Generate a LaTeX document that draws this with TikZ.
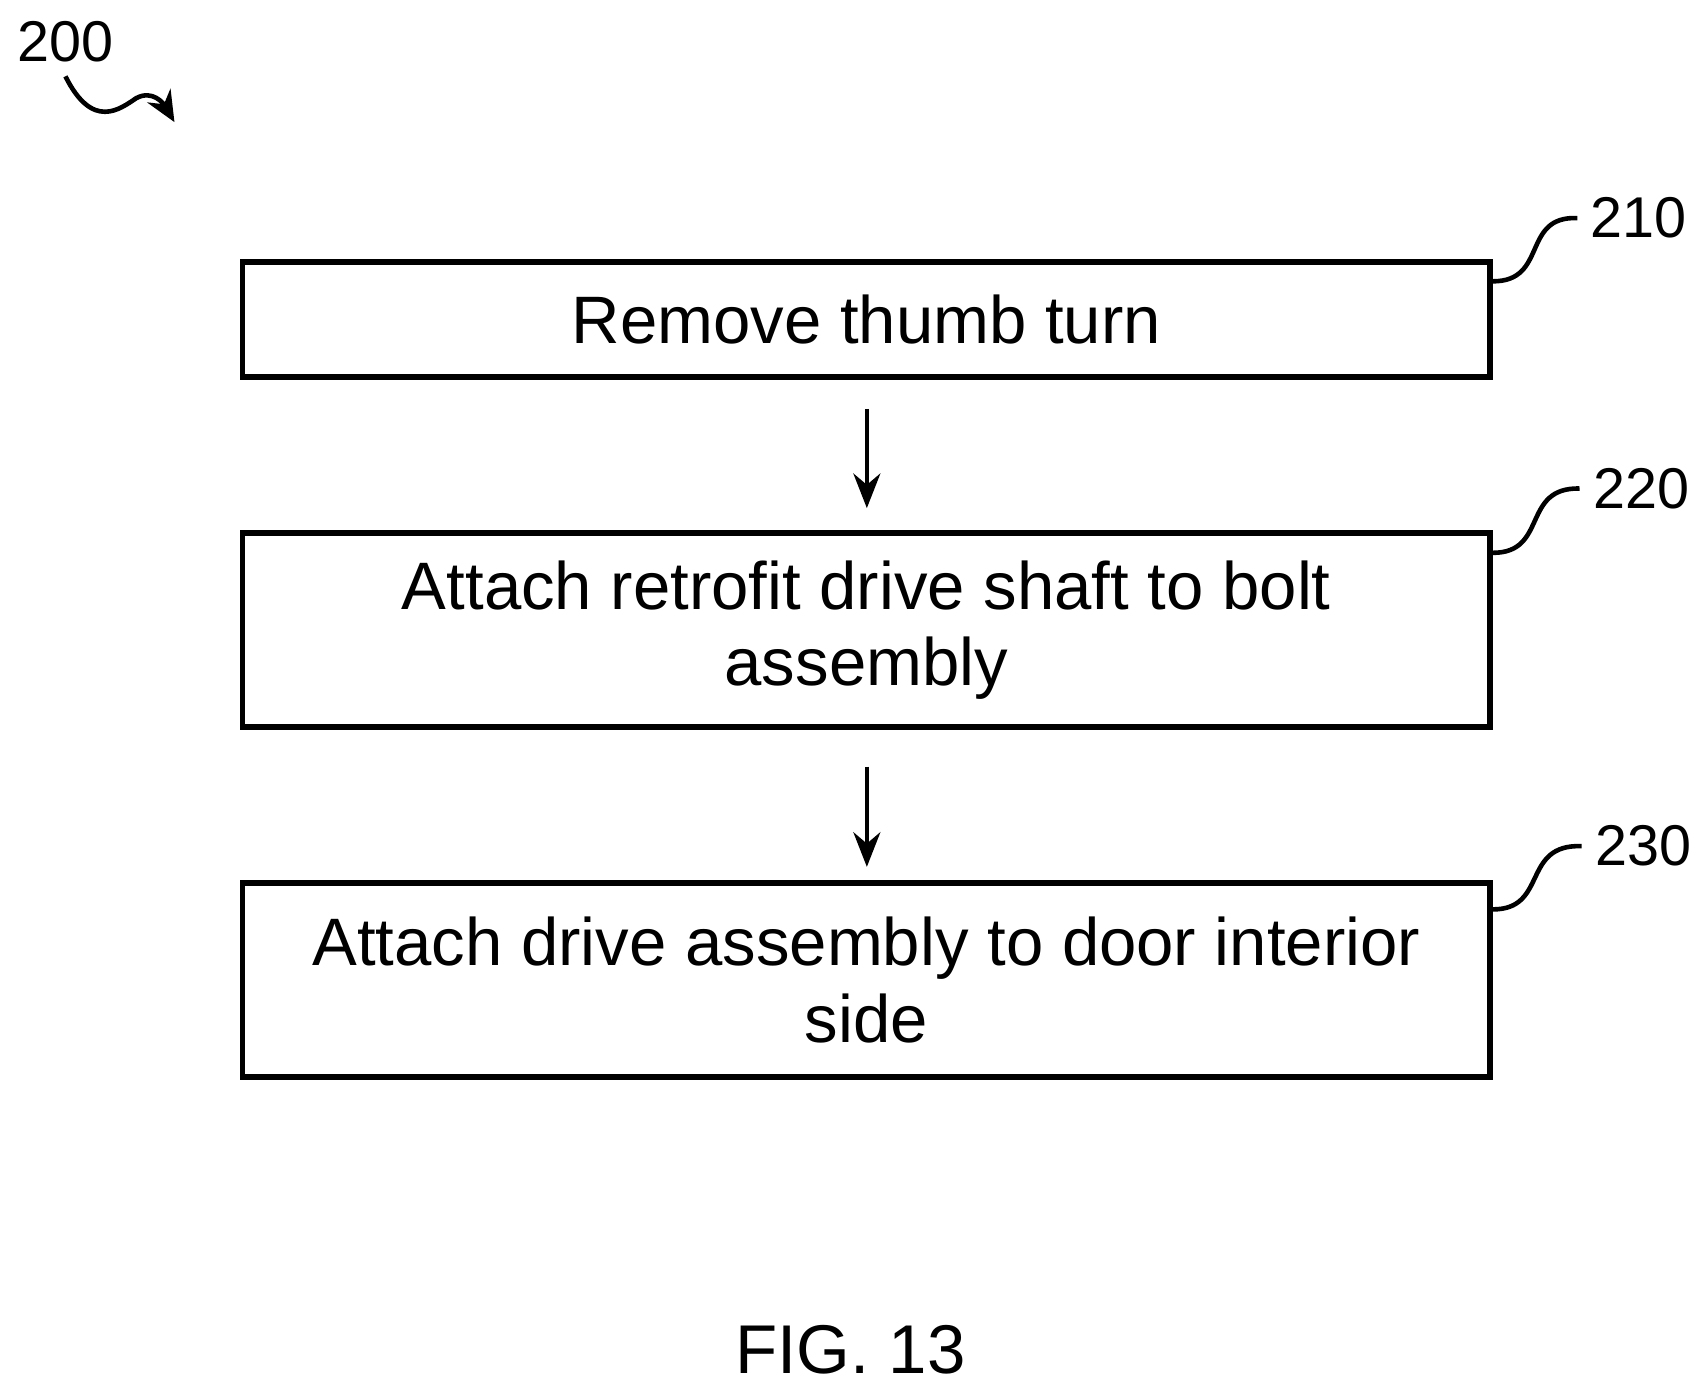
\documentclass[tikz,border=0pt]{standalone}
\usepackage{fontspec}
\setmainfont{Liberation Sans}
\usetikzlibrary{arrows.meta}
\begin{document}
\begin{tikzpicture}[x=0.01cm,y=-0.01cm,
  box/.style={draw,line width=1.5pt,minimum width=1144*0.01cm,align=center,font=\fontsize{17.5}{20}\selectfont,inner sep=0pt},
  lab/.style={font=\fontsize{15}{17}\selectfont},
  arr/.style={line width=1.2pt,-{Stealth[length=9pt,width=7pt]}},
  lead/.style={line width=1.2pt}]
\useasboundingbox (0,0) rectangle (1560,1273);
\node[box,minimum height=106*0.01cm] (b1) at (794.5,293) {Remove thumb turn};
\node[box,minimum height=178*0.01cm] (b2) at (794.5,578) {Attach retrofit drive shaft to bolt\\assembly};
\node[box,minimum height=178*0.01cm] (b3) at (794.5,899) {Attach drive assembly to door interior\\side};
\coordinate (a1s) at (795,375); \coordinate (a1e) at (795,466);
\coordinate (a2s) at (795,703); \coordinate (a2e) at (795,795);
\draw[arr] (a1s) -- (a1e);
\draw[arr] (a2s) -- (a2e);
\node[lab] (l1) at (1503,200) {210};
\node[lab] (l2) at (1505,448) {220};
\node[lab] (l3) at (1507,776) {230};
\foreach \b/\l/\y in {b1/l1/258, b2/l2/507, b3/l3/834}{
  \draw[lead] (\b.east |- 0,\y) .. controls (1420,\y) and (1395,\y-60) .. (\l.west);
}
\node[lab] (l0) at (60,38) {200};
\coordinate (w0) at (60,70); \coordinate (w1) at (160,112);
\draw[lead,-{Stealth[length=8pt,width=7pt]}] (w0) .. controls (85,120) and (110,100) .. (125,90) .. controls (140,82) and (150,95) .. (w1);
\node[font=\fontsize{18}{20}\selectfont] (fig) at (780,1238) {FIG. 13};
\end{tikzpicture}
\end{document}
